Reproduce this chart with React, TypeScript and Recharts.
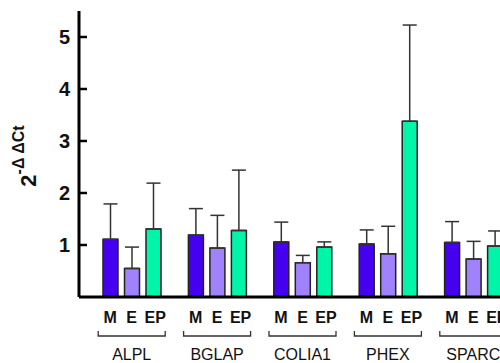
import React from "react"
import { BarChart, Bar, XAxis, YAxis, ErrorBar } from "recharts"

const genes = ["ALPL", "BGLAP", "COLIA1", "PHEX", "SPARC"]
const groupLabels = ["M", "E", "EP"]
const mMean = [1.11, 1.19, 1.06, 1.02, 1.05]
const mSd = [0.68, 0.51, 0.38, 0.27, 0.4]
const eMean = [0.55, 0.94, 0.66, 0.83, 0.73]
const eSd = [0.41, 0.63, 0.14, 0.53, 0.34]
const epMean = [1.31, 1.28, 0.96, 3.38, 0.98]
const epSd = [0.88, 1.16, 0.1, 1.85, 0.29]
const yTicks = [1, 2, 3, 4, 5]

const colors = { M: "#4600f0", E: "#a082fc", EP: "#00f5a8" }
const font = "Arial, 'Liberation Sans', sans-serif"

const data = genes.map((gene, i) => ({
  gene,
  M: mMean[i],
  mErr: [0, mSd[i]],
  E: eMean[i],
  eErr: [0, eSd[i]],
  EP: epMean[i],
  epErr: [0, epSd[i]],
}))

const BAR_STEP = 21.5

function GeneTick(props: any) {
  const { x, y, payload } = props
  return (
    <g fontFamily={font}>
      {groupLabels.map((label, k) => (
        <text
          key={label}
          x={x + (k - 1) * BAR_STEP + (k === 2 ? 2 : 0)}
          y={y + 26}
          textAnchor="middle"
          fontSize={16}
          fontWeight="bold"
          fill="#111"
        >
          {label}
        </text>
      ))}
      <path
        d={`M${x - 33.5},${y + 34} L${x - 33.5},${y + 39} L${x + 33.5},${y + 39} L${x + 33.5},${y + 34}`}
        fill="none"
        stroke="#333"
        strokeWidth={1.3}
      />
      <text x={x} y={y + 63} textAnchor="middle" fontSize={16} fill="#111">
        {payload.value}
      </text>
    </g>
  )
}

function ValueTick(props: any) {
  const { x, y, payload } = props
  return (
    <g>
      <line x1={x} y1={y} x2={x + 8} y2={y} stroke="#000" strokeWidth={2.5} />
      <text
        x={x - 9}
        y={y + 7}
        textAnchor="end"
        fontSize={20}
        fontWeight="bold"
        fontFamily={font}
        fill="#111"
      >
        {payload.value}
      </text>
    </g>
  )
}

function YTitle(props: any) {
  const { viewBox } = props
  const cx = 36
  const cy = viewBox.y + viewBox.height / 2 + 2
  return (
    <text
      transform={`translate(${cx},${cy}) rotate(-90)`}
      textAnchor="middle"
      fontFamily={font}
      fontWeight="bold"
      fill="#111"
    >
      <tspan fontSize={22}>2</tspan>
      <tspan fontSize={16} dy={-12}>
        -Δ ΔCt
      </tspan>
    </text>
  )
}

export default function App() {
  return (
    <div
      style={{
        position: "fixed",
        left: 0,
        top: 0,
        width: 500,
        height: 363,
        overflow: "hidden",
        background: "#fff",
      }}
    >
      <BarChart
        width={516}
        height={363}
        data={data}
        margin={{ top: 11, right: 0, bottom: 0, left: 0 }}
        barSize={15}
        barGap={6.5}
      >
        <XAxis
          dataKey="gene"
          padding={{ left: 10, right: 0 }}
          axisLine={{ stroke: "#000", strokeWidth: 3 }}
          tickLine={false}
          tickSize={0}
          tickMargin={0}
          height={66}
          interval={0}
          tick={<GeneTick />}
        />
        <YAxis
          domain={[0, 5.5]}
          ticks={yTicks}
          width={79}
          axisLine={{ stroke: "#000", strokeWidth: 3 }}
          tickLine={false}
          tickSize={0}
          tickMargin={0}
          tick={<ValueTick />}
          label={<YTitle />}
        />
        <Bar dataKey="M" fill={colors.M} stroke="#222" strokeWidth={1.5} isAnimationActive={false}>
          <ErrorBar dataKey="mErr" direction="y" width={7} stroke="#333" strokeWidth={1.5} />
        </Bar>
        <Bar dataKey="E" fill={colors.E} stroke="#222" strokeWidth={1.5} isAnimationActive={false}>
          <ErrorBar dataKey="eErr" direction="y" width={7} stroke="#333" strokeWidth={1.5} />
        </Bar>
        <Bar dataKey="EP" fill={colors.EP} stroke="#222" strokeWidth={1.5} isAnimationActive={false}>
          <ErrorBar dataKey="epErr" direction="y" width={7} stroke="#333" strokeWidth={1.5} />
        </Bar>
      </BarChart>
    </div>
  )
}
